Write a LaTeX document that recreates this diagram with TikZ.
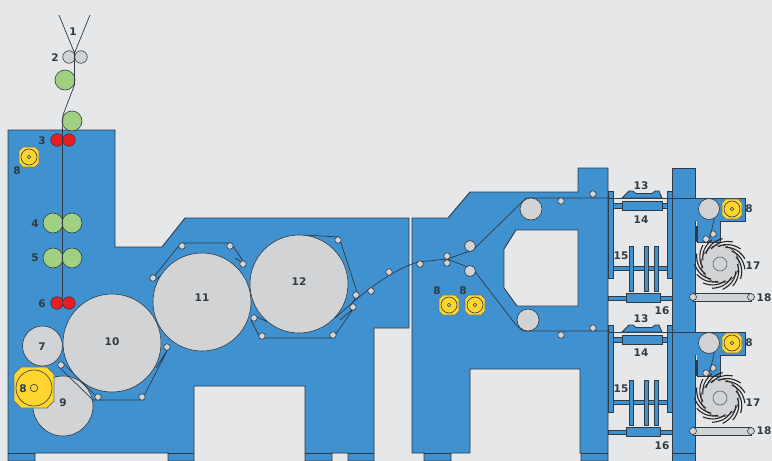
\documentclass[tikz,border=0pt]{standalone}
\usepackage{fontspec}
\setmainfont{DejaVu Sans}
\usepackage{tikz}
\usetikzlibrary{shapes.geometric}
\definecolor{paper}{HTML}{E6E7E9}
\definecolor{frameblue}{HTML}{4091D0}
\definecolor{rollgray}{HTML}{D1D3D4}
\definecolor{rollgreen}{HTML}{A0D183}
\definecolor{rollred}{HTML}{ED1C24}
\definecolor{motoryellow}{HTML}{FFD530}
\definecolor{ink}{HTML}{2F3A45}
\newcommand{\motor}[3]{%
  \draw[motorbox] (#1-#3,#2-#3+4) -- (#1-#3+4,#2-#3) -- (#1+#3-4,#2-#3) -- (#1+#3,#2-#3+4)
    -- (#1+#3,#2+#3-4) -- (#1+#3-4,#2+#3) -- (#1-#3+4,#2+#3) -- (#1-#3,#2+#3-4) -- cycle;
  \draw[ink, line width=0.6pt] (#1,#2) circle (#3-2);
  \draw[ink, line width=0.6pt] (#1,#2) circle (1.7);
}
\begin{document}
\begin{tikzpicture}[
  x=1pt, y=-1pt,
  frame/.style={draw=ink, line width=0.9pt, fill=frameblue},
  hole/.style={draw=ink, line width=0.9pt, fill=paper},
  part/.style={draw=ink, line width=0.8pt, fill=frameblue},
  thread/.style={draw=ink, line width=0.7pt},
  roller/.style={circle, draw=ink, line width=0.6pt, fill=rollgray, inner sep=0pt, minimum size=#1},
  greenroll/.style={roller=20pt, fill=rollgreen},
  redroll/.style={roller=12.5pt, fill=rollred},
  idler/.style={roller=6.5pt},
  blade/.style={draw=black!85, line width=1.1pt},
  motorbox/.style={draw=ink!70, line width=0.6pt, fill=motoryellow},
  tag/.style={font=\bfseries\fontsize{10.5}{12}\selectfont, text=ink, inner sep=0pt}
]
\useasboundingbox[fill=paper] (0,0) rectangle (772,461);

% frames
\draw[frame] (8,130) -- (115,130) -- (115,247) -- (162,247) -- (185,218) -- (409,218) -- (409,328)
  -- (374,328) -- (374,461) -- (348,461) -- (348,453) -- (332,453) -- (332,461) -- (305,461) -- (305,386)
  -- (194,386) -- (194,461) -- (168,461) -- (168,453) -- (35,453) -- (35,461) -- (8,461) -- cycle;
\draw[frame] (412,218) -- (448,218) -- (470,192) -- (578,192) -- (578,168) -- (608,168) -- (608,461)
  -- (581,461) -- (581,453) -- (580,453) -- (580,369) -- (470,369) -- (470,453) -- (451,453) -- (451,461)
  -- (424,461) -- (424,453) -- (412,453) -- cycle;
\draw[hole] (516,230) -- (578,230) -- (578,306) -- (517,306) -- (504,288) -- (504,249) -- cycle;
\draw[frame] (672,168) -- (695,168) -- (695,461) -- (672,461) -- cycle;
\draw[ink, line width=0.8pt] (8,453) -- (35,453) (168,453) -- (194,453) (305,453) -- (332,453)
  (348,453) -- (374,453) (424,453) -- (451,453) (581,453) -- (608,453) (672,453) -- (695,453);

% cutting units
\foreach \dy in {0,134} {
  \begin{scope}[yshift=-\dy pt]
    \draw[part] (608,191) rectangle (613,278);
    \draw[part] (667,191) rectangle (672,278);
    \draw[ink, line width=0.8pt] (608,198) -- (672,198);
    \draw[part] (613,203) rectangle (667,208);
    \draw[part] (622,201) rectangle (662,210);
    \draw[part] (622,198) -- (629,191) -- (633,191) -- (636,193.5) -- (652,193.5) -- (655,191) -- (659,191) -- (662,198) -- cycle;
    \draw[part] (613,266) rectangle (667,270);
    \draw[part] (629,246) rectangle (633,291);
    \draw[part] (644,246) rectangle (648,291);
    \draw[part] (654,246) rectangle (658,291);
    \draw[part] (608,296) rectangle (672,300);
    \draw[part] (626,293) rectangle (660,302);
    % arm
    \fill[frameblue] (694,198) rectangle (745,221) (697,220) rectangle (720,242);
    \draw[ink, line width=0.9pt] (672,198) -- (745,198) -- (745,221) -- (720,221) -- (720,242) -- (697,242);
    \draw[ink, line width=1.5pt] (697,226) -- (697,242);
    \node[roller=21pt] (guide\dy) at (709,209) {};
    \node[idler] (armA\dy) at (706,239) {};
    \node[idler] (armB\dy) at (713,234) {};
    \draw[thread] (guide\dy.-60) -- (armA\dy.east);
    \motor{732}{209}{10}
    % knife drum
    \node[roller=38pt] (drum\dy) at (720,264) {};
    \foreach \a in {0,24,...,336} {
      \draw[blade, shift={(720,264)}] (\a:17.5) .. controls (\a+18:21) and (\a+38:24) .. (\a+60:25.5);
    }
    \node[roller=14pt, draw=ink!80] (hub\dy) at (720,264) {};
    % roller 18
    \draw[draw=ink, line width=0.8pt, fill=rollgray] (693,293) rectangle (751,301);
    \node[roller=7pt] (barL\dy) at (693,297) {};
    \node[roller=7pt] (barR\dy) at (751,297) {};
  \end{scope}
}

% web path
\coordinate (topA) at (59,15);
\coordinate (topB) at (90,15);
\coordinate (nip) at (74.5,53);
\coordinate (bend) at (74.5,85);
\coordinate (feed) at (63,115);
\coordinate (feedB) at (62.5,300);

\node[roller=12.5pt] (nipL) at (69,57) {};
\node[roller=12.5pt] (nipR) at (81,57) {};
\node[greenroll] (pullA) at (65,80) {};
\node[greenroll] (pullB) at (72,121) {};
\node[redroll] (redAL) at (57,140) {};
\node[redroll] (redAR) at (69,140) {};
\node[greenroll] (fourL) at (53,223) {};
\node[greenroll] (fourR) at (72,223) {};
\node[greenroll] (fiveL) at (53,258) {};
\node[greenroll] (fiveR) at (72,258) {};
\node[redroll] (redBL) at (57,303) {};
\node[redroll] (redBR) at (69,303) {};
\draw[thread] (topA) -- (nip) (topB) -- (nip) -- (bend) -- (feed) -- (62.5,130) -- (feedB);

% drums
\draw[thread] (153,278) -- (181,243) -- (231,243) -- (245,264) -- (235,258);
\draw[thread] (155,280) -- (180,262);
\draw[thread] (305,235) -- (339,237) -- (358,295) -- (350,306);
\draw[thread] (255,316) -- (268,322);
\draw[thread] (254,316) -- (251,320) -- (260,338) -- (333,338) -- (354,308) -- (340,320);
\node[roller=40pt] (seven) at (42.5,346) {};
\node[roller=60pt] (nine) at (63,406) {};
\node[roller=98pt] (ten) at (112,343) {};
\node[roller=98pt] (eleven) at (202,302) {};
\node[roller=98pt] (twelve) at (299,284) {};
\draw[thread] (63,363) -- (95,395);
\draw[thread] (59,367) -- (93,400) -- (142,400) -- (168,349) -- (156,368);
\draw[thread] (335,318) .. controls (352,303) and (385,272) .. (418,262) -- (447,259);
\draw[thread] (447,259) -- (473,250) -- (520,204) -- (526,198) -- (610,198);
\draw[thread] (447,259) -- (473,269) -- (516,325) -- (523,331) -- (610,331);
\node[roller=11pt] (upperA) at (470,246) {};
\node[roller=11pt] (lowerA) at (470,271) {};
\node[roller=22pt] (upperB) at (531,209) {};
\node[roller=22pt] (lowerB) at (528,320) {};

\foreach \x/\y/\n in {61/365/a, 98/397/b, 142/397/c, 167/347/d, 153/278/e, 182/246/f, 230/246/g,
    243/264/h, 338/240/i, 356/295/j, 353/307/k, 333/335/l, 262/336/m, 254/318/n, 371/291/o, 389/272/p,
    420/264/q, 447/256/r, 447/263/s, 561/201/t, 593/194/u, 561/335/v, 593/328/w}
  \node[idler] (idle\n) at (\x,\y) {};

% motors
\draw[motorbox, line width=0.9pt] (14,374) -- (21,367) -- (47,367) -- (54,374) -- (54,401) -- (47,408)
  -- (21,408) -- (14,401) -- cycle;
\draw[ink, line width=0.6pt] (34,388) circle (18);
\draw[ink, line width=0.6pt] (34,388) circle (3.7);
\motor{29}{157}{10}
\motor{449}{305}{10}
\motor{475}{305}{10}

% labels
\foreach \x/\y/\t in {73/32/1, 55/58/2, 42/141/3, 17/171/8, 35/224/4, 35/258/5, 42/304/6, 42/347/7,
    23/389/8, 63/403/9, 112/342/10, 202/298/11, 299/282/12, 437/291/8, 463/291/8}
  \node[tag] (tag\x) at (\x,\y) {\t};
\foreach \x/\y/\t in {641/186/13, 641/220/14, 621/256/15, 662/311/16, 753/266/17, 764/298/18, 749/209/8,
    641/319/13, 641/353/14, 621/389/15, 662/446/16, 753/403/17, 764/431/18, 749/343/8}
  \node[tag] (note\x\y) at (\x,\y) {\t};
\end{tikzpicture}
\end{document}
